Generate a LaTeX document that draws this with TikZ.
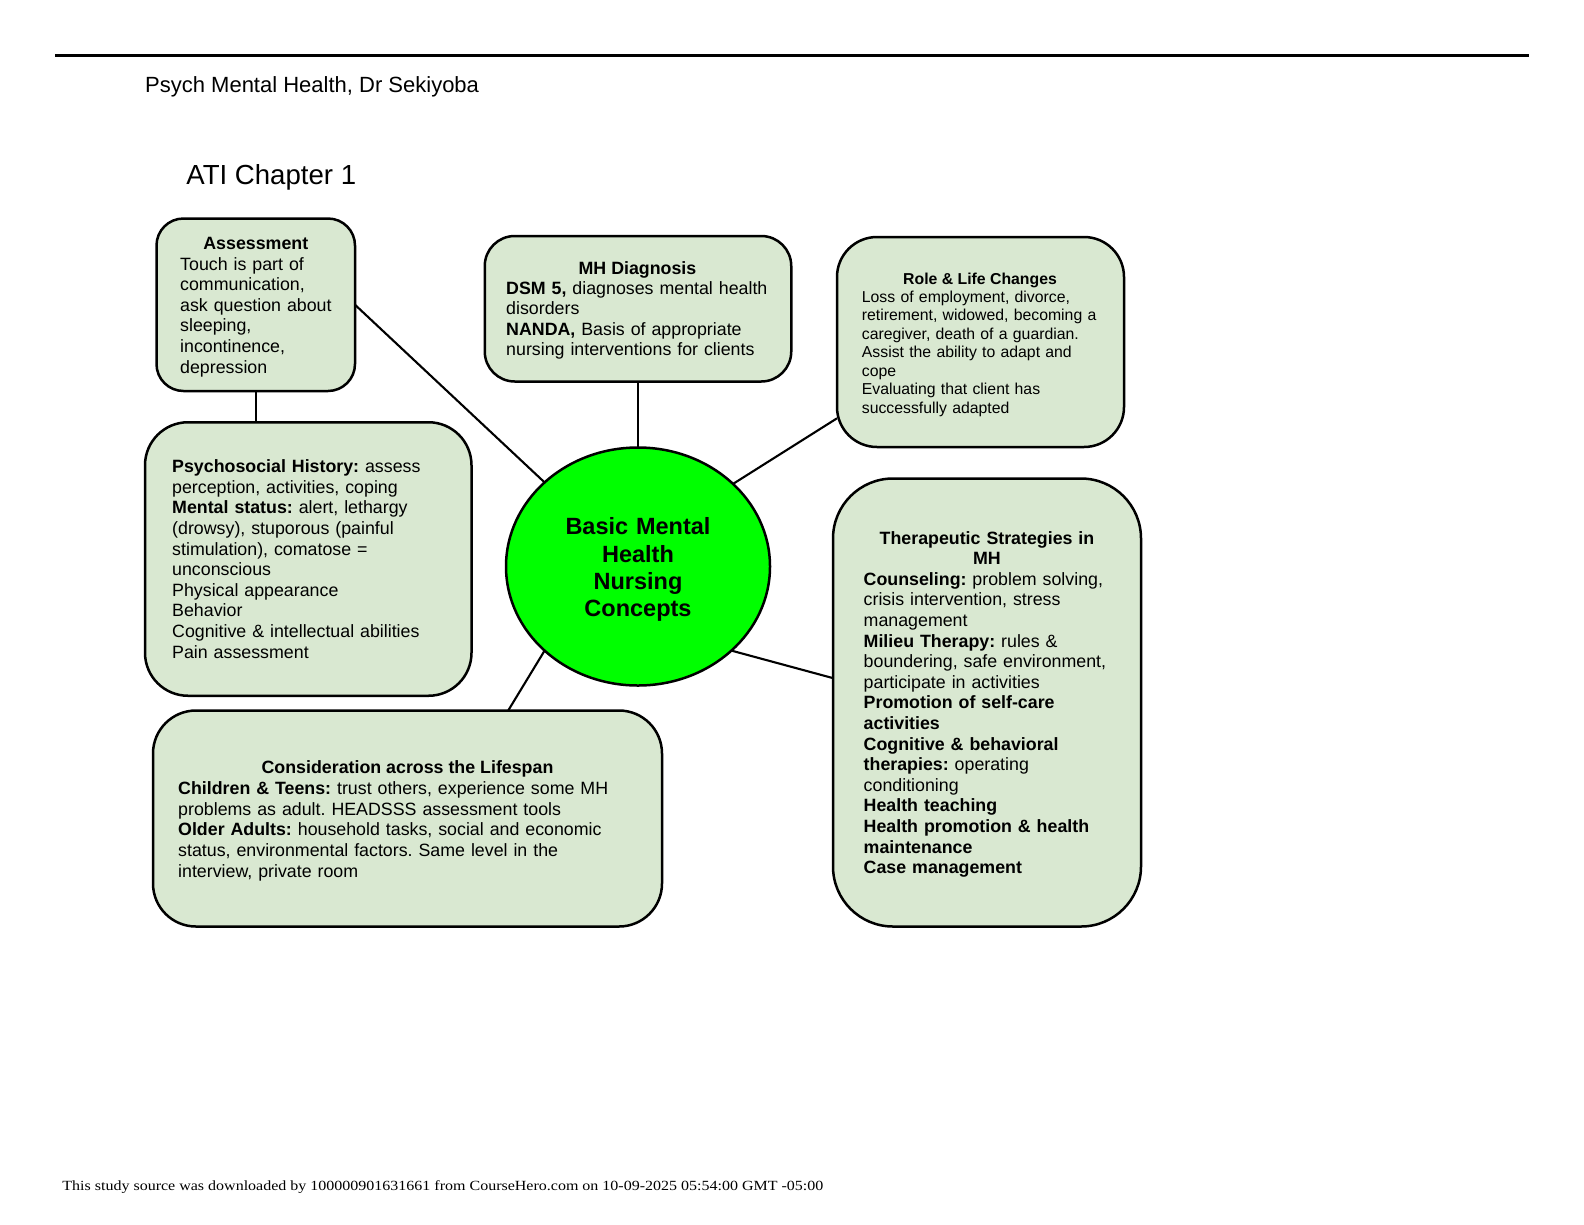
\documentclass[tikz,border=0pt]{standalone}
\usepackage{fontspec}
\setmainfont{Liberation Sans}
\newfontfamily\footfont{Liberation Serif}
\usepackage{graphicx}
\usetikzlibrary{shapes.geometric}
\definecolor{boxgreen}{RGB}{217,232,209}
\definecolor{centergreen}{RGB}{0,255,0}
\tikzset{
  box/.style={draw=black, line width=2.5pt, fill=boxgreen, rounded corners=#1, inner sep=0pt, outer sep=0pt},
  conn/.style={draw=black, line width=2.1pt},
  bodytext/.style={anchor=base west, inner sep=0pt, align=left, text width=440pt, font=\fontsize{17.8}{20.6}\selectfont},
  smalltext/.style={anchor=base west, inner sep=0pt, align=left, text width=440pt, font=\fontsize{15.8}{18.55}\selectfont},
  titletext/.style={anchor=base, inner sep=0pt, font=\bfseries\fontsize{17.8}{20.6}\selectfont},
}
\begin{document}
\frenchspacing
\begin{tikzpicture}[x=1pt, y=-1pt]
\useasboundingbox[fill=white] (0,0) rectangle (1584,1224);

% header
\coordinate (ruleL) at (55,55.7);
\coordinate (ruleR) at (1529,55.7);
\draw[line width=2.5pt] (ruleL) -- (ruleR);
\node[anchor=base west, inner sep=0pt, font=\fontsize{22}{26}\selectfont] (hdr) at (145,92.7) {Psych Mental Health, Dr Sekiyoba};
\node[anchor=base west, inner sep=0pt, font=\fontsize{27.6}{32}\selectfont] (ati) at (186.2,184.8) {ATI Chapter 1};

% boxes
\node[box=27pt, minimum width=198.5pt, minimum height=172.5pt] (assess) at (255.75,304.75) {};
\node[box=30pt, minimum width=306.5pt, minimum height=145.5pt] (mh) at (638,308.75) {};
\node[box=40pt, minimum width=287pt, minimum height=210pt] (role) at (980.5,342) {};
\node[box=43pt, minimum width=326.5pt, minimum height=273.5pt] (psych) at (308.25,559) {};
\node[box=43pt, minimum width=509pt, minimum height=216pt] (consid) at (407.5,818.5) {};
\node[box=60pt, minimum width=308pt, minimum height=448pt] (thera) at (987,702.5) {};
\node[ellipse, draw=black, line width=2.5pt, fill=centergreen, inner sep=0pt, outer sep=0pt, minimum width=264pt, minimum height=238pt] (ell) at (638,566.5) {};

% connectors
\draw[conn] (assess.south) -- (assess.south |- psych.north);
\draw[conn] (assess.east) -- (ell.138);
\draw[conn] (mh.south) -- (ell.north);
\draw[conn] (role.208) -- (ell.41.7);
\draw[conn] (ell.222) -- (consid.47.2);
\draw[conn] (ell.318.7) -- (thera.171.4);

% centre text
\node[anchor=base, inner sep=0pt, text width=250pt, align=center, font=\bfseries\fontsize{23.5}{27.4}\selectfont] (ctext) at (638,534.7) {Basic Mental\\Health\\Nursing\\Concepts};

% assessment
\node[titletext] (assessT) at (255.8,249.5) {Assessment};
\node[bodytext] (assessB) at (180,270) {Touch is part of\\communication,\\ask question about\\sleeping,\\incontinence,\\depression};

% MH diagnosis
\node[titletext] (mhT) at (637.5,274) {MH Diagnosis};
\node[bodytext] (mhB) at (506,294) {\textbf{DSM 5,} diagnoses mental health\\disorders\\\textbf{NANDA,} Basis of appropriate\\nursing interventions for clients};

% role
\node[anchor=base, inner sep=0pt, font=\bfseries\fontsize{15.8}{18.55}\selectfont] (roleT) at (980,284.3) {Role \& Life Changes};
\node[smalltext] (roleB) at (861.7,302) {Loss of employment, divorce,\\retirement, widowed, becoming a\\caregiver, death of a guardian.\\Assist the ability to adapt and\\cope\\Evaluating that client has\\successfully adapted};

% psychosocial
\node[bodytext] (psychB) at (172,472.7) {\textbf{Psychosocial History:} assess\\perception, activities, coping\\\textbf{Mental status:} alert, lethargy\\(drowsy), stuporous (painful\\stimulation), comatose =\\unconscious\\Physical appearance\\Behavior\\Cognitive \& intellectual abilities\\Pain assessment};

% consideration
\node[titletext] (considT) at (407.5,773.7) {Consideration across the Lifespan};
\node[bodytext] (considB) at (178,794.7) {\textbf{Children \& Teens:} trust others, experience some MH\\problems as adult. HEADSSS assessment tools\\\textbf{Older Adults:} household tasks, social and economic\\status, environmental factors. Same level in the\\interview, private room};

% therapeutic
\node[anchor=base, inner sep=0pt, text width=300pt, align=center, font=\bfseries\fontsize{17.8}{20.6}\selectfont] (theraT) at (987,544.3) {Therapeutic Strategies in\\MH};
\node[bodytext] (theraB) at (863.5,585.3) {\textbf{Counseling:} problem solving,\\crisis intervention, stress\\management\\\textbf{Milieu Therapy:} rules \&\\boundering, safe environment,\\participate in activities\\\textbf{Promotion of self-care}\\\textbf{activities}\\\textbf{Cognitive \& behavioral}\\\textbf{therapies:} operating\\conditioning\\\textbf{Health teaching}\\\textbf{Health promotion \& health}\\\textbf{maintenance}\\\textbf{Case management}};

% footer
\node[anchor=base west, inner sep=0pt] (foot) at (62.2,1190.5) {\resizebox{761pt}{\height}{\footfont\fontsize{14}{16}\selectfont This study source was downloaded by 100000901631661 from CourseHero.com on 10-09-2025 05:54:00 GMT -05:00}};
\end{tikzpicture}
\end{document}
